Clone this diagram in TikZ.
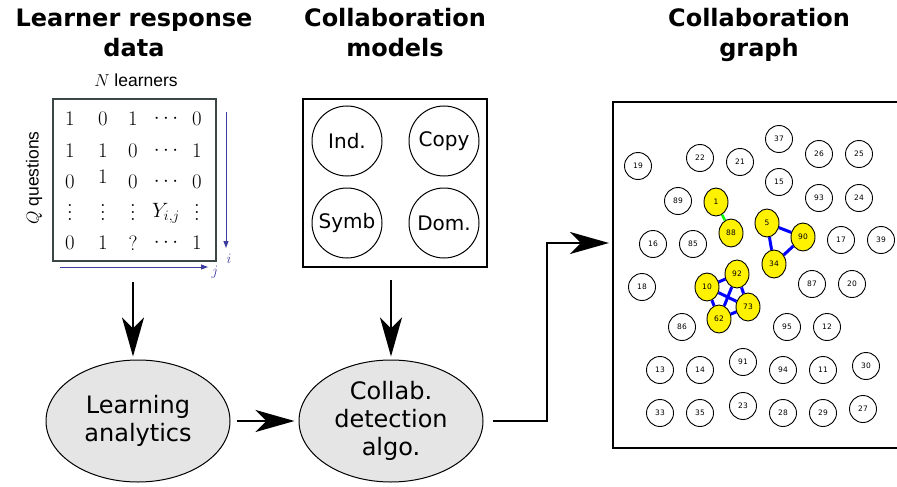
\documentclass[tikz,border=0pt]{standalone}
\usepackage{fontspec}
\setmainfont{DejaVu Sans}
\newfontfamily\labfont{Liberation Sans}
\usetikzlibrary{arrows.meta,shapes.geometric}
\definecolor{matgray}{RGB}{60,70,70}
\definecolor{idxblue}{RGB}{60,60,160}
\newcommand{\tallvdots}{\vbox{\baselineskip=7pt\lineskiplimit=0pt\hbox{$.$}\hbox{$.$}\hbox{$.$}}}
\tikzset{
  title/.style={font=\fontsize{24}{30}\selectfont\bfseries,align=center},
  bigarrow/.style={line width=2pt,-{Stealth[length=39pt,width=22pt,inset=11pt]}},
  idxarrow/.style={idxblue,line width=1pt,-{Triangle[length=7pt,width=5pt]}},
  entry/.style={font=\fontsize{20}{20}\selectfont,inner sep=0pt},
  axlab/.style={font=\labfont\fontsize{17.5}{17.5}\selectfont},
  idxlab/.style={idxblue,font=\fontsize{14}{14}\selectfont,inner sep=0pt},
  procnode/.style={ellipse,draw,line width=1pt,fill=gray!20,minimum width=184pt,minimum height=122pt,
    inner sep=0pt,align=center,font=\fontsize{24}{28}\selectfont},
  model/.style={circle,draw,line width=1pt,minimum size=70pt,inner sep=0pt,font=\fontsize{20}{20}\selectfont},
  wnode/.style={circle,draw,line width=0.9pt,fill=white,minimum size=27pt,inner sep=0pt,font=\fontsize{7.5}{8}\selectfont},
  ynode/.style={ellipse,draw,line width=0.9pt,fill=yellow,minimum width=24pt,minimum height=28pt,inner sep=0pt,font=\fontsize{7.5}{8}\selectfont},
  bedge/.style={blue,line width=3pt},
  gedge/.style={green,line width=2.5pt}
}
\begin{document}
\begin{tikzpicture}[x=1pt,y=-1pt]
        \useasboundingbox (0,0) rectangle (897,487);
        % titles
        \node[title] (t1) at (134,33) {Learner response\\data};
        \node[title] (t2) at (395,33) {Collaboration\\models};
        \node[title] (t3) at (759,35) {Collaboration\\graph};

        % response matrix
        \node[draw=matgray,line width=2pt,minimum width=163pt,minimum height=162pt,inner sep=0pt] (mat) at (134.5,180) {};
        \node[axlab] (nlab) at (136,80) {$N$ learners};
        \node[axlab,rotate=90] (qlab) at (34,178) {$Q$ questions};
        \node[entry] (m11) at (70,119) {$1$};
        \node[entry] (m12) at (103,119) {$0$};
        \node[entry] (m13) at (133,119) {$1$};
        \node[entry] (m14) at (166,119) {$\cdots$};
        \node[entry] (m15) at (197,119) {$0$};
        \node[entry] (m21) at (70,151) {$1$};
        \node[entry] (m22) at (103,151) {$1$};
        \node[entry] (m23) at (133,151) {$0$};
        \node[entry] (m24) at (166,151) {$\cdots$};
        \node[entry] (m25) at (197,151) {$1$};
        \node[entry] (m31) at (70,182) {$0$};
        \node[entry] (m32) at (103,177) {$1$};
        \node[entry] (m33) at (133,182) {$0$};
        \node[entry] (m34) at (166,182) {$\cdots$};
        \node[entry] (m35) at (197,182) {$0$};
        \node[entry] (m41) at (70,212) {\tallvdots};
        \node[entry] (m42) at (103,212) {\tallvdots};
        \node[entry] (m43) at (133,212) {\tallvdots};
        \node[entry] (m44) at (166,213) {$Y_{i,j}$};
        \node[entry] (m45) at (197,212) {\tallvdots};
        \node[entry] (m51) at (70,243) {$0$};
        \node[entry] (m52) at (103,243) {$1$};
        \node[entry] (m53) at (133,243) {$?$};
        \node[entry] (m54) at (166,243) {$\cdots$};
        \node[entry] (m55) at (197,243) {$1$};

        % index arrows
        \coordinate (itop) at (226,112);
        \coordinate (ibot) at (226,248);
        \coordinate (jleft) at (60,267);
        \coordinate (jright) at (208,267);
        \draw[idxarrow] (itop) -- (ibot);
        \draw[idxarrow] (jleft) -- (jright);
        \node[idxlab] (ilab) at (229,259) {$i$};
        \node[idxlab] (jlab) at (215,272) {$j$};

        % collaboration models
        \node[draw,line width=2pt,minimum width=184pt,minimum height=168pt,inner sep=0pt] (models) at (395,183) {};
        \node[model] (ind) at (347,141) {Ind.};
        \node[model] (copy) at (444,141) {Copy};
        \node[model] (symb) at (347,223) {Symb};
        \node[model] (dom) at (444,223) {Dom.};

        % processing
        \node[procnode] (learn) at (138,421) {Learning\\analytics};
        \node[procnode] (detect) at (391,421) {Collab.\\detection\\algo.};
        \coordinate (matout) at (133,282);
        \coordinate (modout) at (391,280);
        \draw[bigarrow,shorten >=3pt] (matout) -- (matout |- learn.north);
        \draw[bigarrow,shorten >=3pt] (modout) -- (detect.north);
        \draw[bigarrow,shorten <=6pt,shorten >=4pt] (learn) -- (detect);
        \coordinate (turn) at (547,243);
        \coordinate (gin) at (609,243);
        \draw[bigarrow] ([xshift=9pt]detect.east) -| (turn) -- (gin);

        % collaboration graph
        \draw[line width=2.5pt] (613,102) rectangle (905,448);
        \node[wnode] (g37) at (779,139) {37};
        \node[wnode] (g22) at (700,158) {22};
        \node[wnode] (g21) at (740,162) {21};
        \node[wnode] (g26) at (819,154) {26};
        \node[wnode] (g25) at (859,154) {25};
        \node[wnode] (g19) at (638,166) {19};
        \node[wnode] (g15) at (779,182) {15};
        \node[wnode] (g89) at (678,201) {89};
        \node[wnode] (g93) at (819,198) {93};
        \node[wnode] (g24) at (859,198) {24};
        \node[wnode] (g16) at (653,244) {16};
        \node[wnode] (g85) at (693,244) {85};
        \node[wnode] (g17) at (841,240) {17};
        \node[wnode] (g39) at (881,240) {39};
        \node[wnode] (g18) at (642,287) {18};
        \node[wnode] (g87) at (812,284) {87};
        \node[wnode] (g20) at (852,284) {20};
        \node[wnode] (g86) at (682,327) {86};
        \node[wnode] (g95) at (787,327) {95};
        \node[wnode] (g12) at (827,327) {12};
        \node[wnode] (g13) at (660,370) {13};
        \node[wnode] (g14) at (700,370) {14};
        \node[wnode] (g91) at (743,362) {91};
        \node[wnode] (g94) at (783,370) {94};
        \node[wnode] (g11) at (823,370) {11};
        \node[wnode] (g30) at (866,366) {30};
        \node[wnode] (g33) at (660,413) {33};
        \node[wnode] (g35) at (700,413) {35};
        \node[wnode] (g23) at (743,406) {23};
        \node[wnode] (g28) at (783,413) {28};
        \node[wnode] (g29) at (823,413) {29};
        \node[wnode] (g27) at (863,409) {27};
        \node[ynode] (g1) at (716,202) {1};
        \node[ynode] (g88) at (731,233) {88};
        \node[ynode] (g5) at (767,223) {5};
        \node[ynode] (g90) at (803,237) {90};
        \node[ynode] (g34) at (774,264) {34};
        \node[ynode] (g92) at (737,274) {92};
        \node[ynode] (g10) at (707,287) {10};
        \node[ynode] (g73) at (748,307) {73};
        \node[ynode] (g62) at (719,319) {62};
        \draw[gedge] (g1) -- (g88);
        \draw[bedge] (g5) -- (g90);
        \draw[bedge] (g5) -- (g34);
        \draw[bedge] (g90) -- (g34);
        \draw[bedge] (g10) -- (g92);
        \draw[bedge] (g10) -- (g73);
        \draw[bedge] (g10) -- (g62);
        \draw[bedge] (g92) -- (g73);
        \draw[bedge] (g92) -- (g62);
        \draw[bedge] (g62) -- (g73);
\end{tikzpicture}
\end{document}
